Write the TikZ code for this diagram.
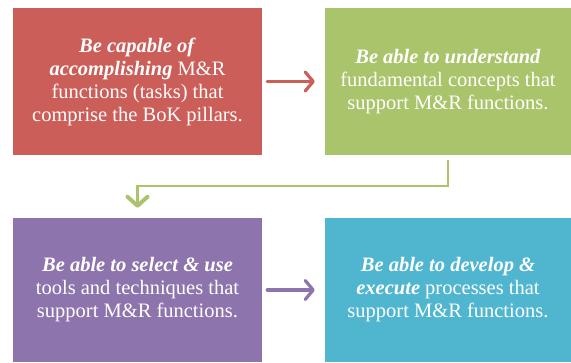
\documentclass[tikz,border=0pt]{standalone}
\usepackage{fontspec}
\setmainfont{Liberation Serif}
\usetikzlibrary{arrows.meta}
\definecolor{cred}{RGB}{204,94,89}
\definecolor{cgreen}{RGB}{169,196,106}
\definecolor{cpurple}{RGB}{142,116,172}
\definecolor{cblue}{RGB}{80,182,208}
\begin{document}
\begin{tikzpicture}[x=1pt,y=-1pt,
  box/.style={rectangle, inner sep=0pt, text=white, align=center,
    font=\fontsize{20.5}{23}\selectfont},
  flow/.style={line width=3.2pt, line cap=round,
    -{Straight Barb[length=8pt,width=19pt,line cap=round,round]}}]
\useasboundingbox (0,0) rectangle (571,362);
\node[box, fill=cred, minimum width=249pt, minimum height=147pt] (red) at (137.5,81.5)
  {\textbf{\textit{Be capable of}}\\\textbf{\textit{accomplishing}} M\&R\\functions (tasks) that\\comprise the BoK pillars.};
\node[box, fill=cgreen, minimum width=246pt, minimum height=147pt] (green) at (448,81.5)
  {\textbf{\textit{Be able to understand}}\\fundamental concepts that\\support M\&R functions.};
\node[box, fill=cpurple, minimum width=249pt, minimum height=144pt] (purple) at (137.5,290)
  {\textbf{\textit{Be able to select \& use}}\\tools and techniques that\\support M\&R functions.};
\node[box, fill=cblue, minimum width=246pt, minimum height=144pt] (blue) at (448,290)
  {\textbf{\textit{Be able to develop \&}}\\\textbf{\textit{execute}} processes that\\support M\&R functions.};
\draw[flow, draw=cred, shorten <=5pt, shorten >=10pt] (red) -- (green);
\draw[flow, draw=cpurple, shorten <=5pt, shorten >=10pt] (purple) -- (blue);
\coordinate (bend) at (448,186);
\draw[draw=cgreen, line width=2.4pt, shorten <=5pt, shorten >=10pt,
  -{Straight Barb[length=9pt,width=20pt,line width=4pt,line cap=round,round]}]
  (green.south) -- (bend) -| (purple.north);
\end{tikzpicture}
\end{document}
